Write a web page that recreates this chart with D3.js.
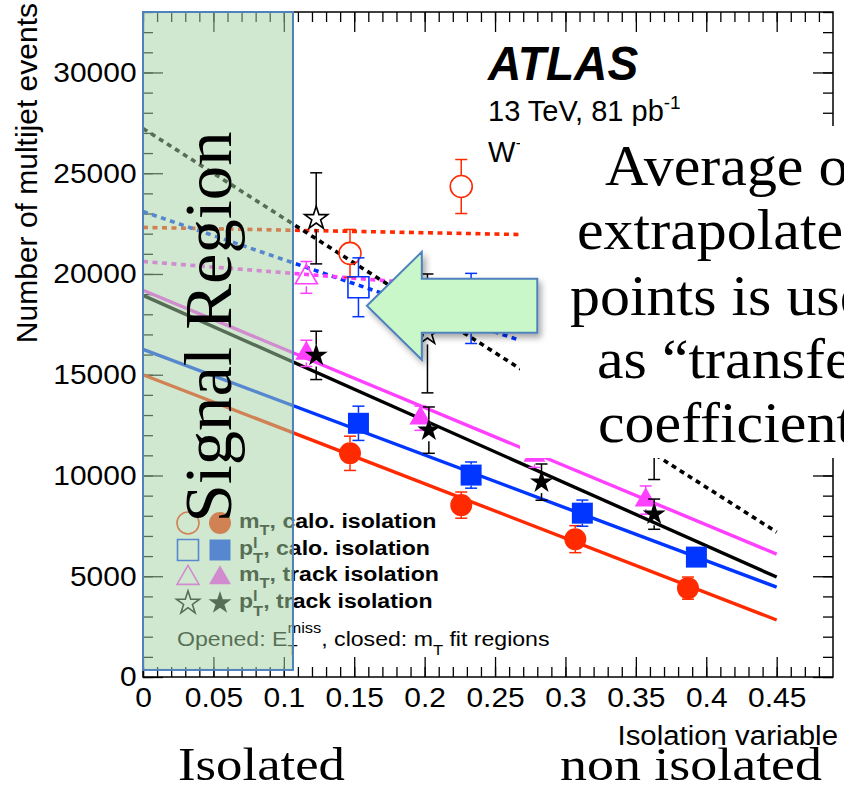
<!DOCTYPE html>
<html>
<head>
<meta charset="utf-8">
<script src="https://cdn.jsdelivr.net/npm/d3@7"></script>
<style>
  html, body { margin: 0; padding: 0; background: #fff; }
  svg { display: block; }
  text { white-space: pre; }
</style>
</head>
<body>
<script>
// isolation variable vs number of multijet events, ATLAS style

// closed markers: m_T fit regions
var mtCaloX = [0.147, 0.226, 0.307, 0.387];
var mtCaloY = [11100, 8530, 6840, 4410];
var mtCaloErr = [850, 650, 670, 550];
var ptCaloX = [0.153, 0.233, 0.312, 0.393];
var ptCaloY = [12590, 10020, 8130, 5950];
var ptCaloErr = [850, 650, 650, 400];
var mtTrackX = [0.116, 0.197, 0.278, 0.357];
var mtTrackY = [16060, 12840, 11000, 8780];
var mtTrackErr = [650, 600, 600, 700];
var ptTrackX = [0.123, 0.203, 0.283, 0.363];
var ptTrackY = [15960, 12250, 9670, 8080];
var ptTrackErr = [1200, 1150, 900, 750];

// open markers: E_T^miss fit regions
var mtCaloMetX = [0.147, 0.226];
var mtCaloMetY = [21020, 24340];
var mtCaloMetErr = [1190, 1340];
var ptCaloMetX = [0.153, 0.233];
var ptCaloMetY = [19340, 18290];
var ptCaloMetErr = [1460, 1740];
var mtTrackMetX = [0.116];
var mtTrackMetY = [19830];
var mtTrackMetErr = [790];
var ptTrackMetX = [0.123, 0.202, 0.363];
var ptTrackMetY = [22760, 17050, 12300];
var ptTrackMetErr = [2260, 2950, 2500];

// linear fits, value at x = 0 and x = 0.45
var fitX = [0, 0.45];
var mtCaloFit = [15000, 2830];
var ptCaloFit = [16260, 4460];
var mtTrackFit = [19190, 6100];
var ptTrackFit = [18940, 4960];
var mtCaloMetFit = [22310, 21720];
var ptCaloMetFit = [23100, 12350];
var mtTrackMetFit = [20620, 18130];
var ptTrackMetFit = [27220, 7190];

var xTickLabels = ["0", "0.05", "0.1", "0.15", "0.2", "0.25", "0.3", "0.35", "0.4", "0.45"];
var yTickLabels = ["0", "5000", "10000", "15000", "20000", "25000", "30000"];

var RED = "#ff2a00", BLUE = "#0036ff", MAG = "#ff40ff", BLK = "#000";
var SANS = "'Liberation Sans', Arial, sans-serif";
var SERIF = "'Liberation Serif', 'Times New Roman', serif";

var svg = d3.select("body").append("svg").attr("width", 844).attr("height", 787);
var defs = svg.append("defs");
var f = defs.append("filter").attr("id", "shadow").attr("x", "-20%").attr("y", "-20%").attr("width", "150%").attr("height", "150%");
f.append("feDropShadow").attr("dx", 3).attr("dy", 4).attr("stdDeviation", 3).attr("flood-color", "#000").attr("flood-opacity", 0.35);

var x = d3.scaleLinear().domain([0, 0.49]).range([143, 833]);
var y = d3.scaleLinear().domain([0, 33000]).range([677, 12]);

// axes
var xMajor = xTickLabels.map(Number);
var xMinor = d3.range(0, 49).map(function (i) { return i / 100; });
var yMajor = yTickLabels.map(Number);
var yMinor = d3.range(0, 34).map(function (i) { return i * 1000; });

function styleAxis(g) {
  g.select(".domain").remove();
  g.selectAll(".tick line").attr("stroke", "#000").attr("stroke-width", 1.3);
}

var ax = svg.append("g");
ax.append("g").attr("transform", "translate(0,677)")
  .call(d3.axisBottom(x).tickValues(xMinor).tickSize(-10).tickFormat("")).call(styleAxis);
ax.append("g").attr("transform", "translate(0,677)")
  .call(d3.axisBottom(x).tickValues(xMajor).tickSize(-20).tickPadding(10)
    .tickFormat(function (d, i) { return xTickLabels[i]; }))
  .call(styleAxis);
ax.append("g").attr("transform", "translate(0,12)")
  .call(d3.axisTop(x).tickValues(xMinor).tickSize(-10).tickFormat("")).call(styleAxis);
ax.append("g").attr("transform", "translate(0,12)")
  .call(d3.axisTop(x).tickValues(xMajor).tickSize(-20).tickFormat("")).call(styleAxis);
ax.append("g").attr("transform", "translate(143,0)")
  .call(d3.axisLeft(y).tickValues(yMinor).tickSize(-10).tickFormat("")).call(styleAxis);
ax.append("g").attr("transform", "translate(143,0)")
  .call(d3.axisLeft(y).tickValues(yMajor).tickSize(-20).tickPadding(6)
    .tickFormat(function (d, i) { return yTickLabels[i]; }))
  .call(styleAxis);
ax.append("g").attr("transform", "translate(833,0)")
  .call(d3.axisRight(y).tickValues(yMinor).tickSize(-10).tickFormat("")).call(styleAxis);
ax.append("g").attr("transform", "translate(833,0)")
  .call(d3.axisRight(y).tickValues(yMajor).tickSize(-20).tickFormat("")).call(styleAxis);
ax.selectAll(".tick text").attr("font-family", SANS).attr("font-size", 28).attr("fill", "#000")
  .attr("transform", "scale(1.07,1)");
svg.append("rect").attr("x", 143).attr("y", 12).attr("width", 690).attr("height", 665)
  .attr("fill", "none").attr("stroke", "#000").attr("stroke-width", 1.5);

svg.append("text").attr("transform", "translate(37,3) rotate(-90)").attr("text-anchor", "end")
  .attr("font-family", SANS).attr("font-size", 30).text("Number of multijet events");
svg.append("text").attr("transform", "translate(838,745) scale(1.05,1)").attr("text-anchor", "end")
  .attr("font-family", SANS).attr("font-size", 28).text("Isolation variable");

// fit lines
var plot = svg.append("g");
var line = d3.line().x(function (d) { return x(d[0]); }).y(function (d) { return y(d[1]); });
function fit(vals, color, dashed) {
  plot.append("path").datum(fitX.map(function (v, i) { return [v, vals[i]]; }))
    .attr("d", line).attr("fill", "none").attr("stroke", color).attr("stroke-width", dashed ? 3.6 : 3.4)
    .attr("stroke-dasharray", dashed ? "5,4.5" : null);
}
fit(mtCaloMetFit, RED, true);
fit(ptCaloMetFit, BLUE, true);
fit(mtTrackMetFit, MAG, true);
fit(ptTrackMetFit, BLK, true);
fit(mtCaloFit, RED, false);
fit(ptCaloFit, BLUE, false);
fit(mtTrackFit, MAG, false);
fit(ptTrackFit, BLK, false);

var shapes = {
  circle: { type: d3.symbolCircle, size: 380, r: 11 },
  square: { type: d3.symbolSquare, size: 441, r: 10.5 },
  triangle: { type: d3.symbolTriangle, size: 210, r: 9 },
  star: { type: d3.symbolStar, size: 165, r: 11 }
};

function points(xs, ys, errs, color, shape, open) {
  var s = shapes[shape];
  var data = xs.map(function (v, i) { return { x: v, y: ys[i], e: errs[i] }; });
  var g = plot.append("g");
  data.forEach(function (d) {
    var px = x(d.x), py = y(d.y), top = y(d.y + d.e), bot = y(d.y - d.e);
    var eg = g.append("g").attr("stroke", color).attr("stroke-width", 1.5);
    if (top < py - s.r) eg.append("line").attr("x1", px).attr("x2", px).attr("y1", top).attr("y2", py - s.r);
    if (bot > py + s.r) eg.append("line").attr("x1", px).attr("x2", px).attr("y1", py + s.r).attr("y2", bot);
    eg.append("line").attr("x1", px - 6).attr("x2", px + 6).attr("y1", top).attr("y2", top);
    eg.append("line").attr("x1", px - 6).attr("x2", px + 6).attr("y1", bot).attr("y2", bot);
  });
  g.selectAll("path.m").data(data).enter().append("path").attr("class", "m")
    .attr("transform", function (d) { return "translate(" + x(d.x) + "," + y(d.y) + ")"; })
    .attr("d", d3.symbol().type(s.type).size(s.size))
    .attr("fill", open ? "none" : color).attr("stroke", color).attr("stroke-width", open ? 1.6 : 0);
}
points(mtCaloMetX, mtCaloMetY, mtCaloMetErr, RED, "circle", true);
points(ptCaloMetX, ptCaloMetY, ptCaloMetErr, BLUE, "square", true);
points(mtTrackMetX, mtTrackMetY, mtTrackMetErr, MAG, "triangle", true);
points(ptTrackMetX, ptTrackMetY, ptTrackMetErr, BLK, "star", true);
points(mtCaloX, mtCaloY, mtCaloErr, RED, "circle", false);
points(ptCaloX, ptCaloY, ptCaloErr, BLUE, "square", false);
points(mtTrackX, mtTrackY, mtTrackErr, MAG, "triangle", false);
points(ptTrackX, ptTrackY, ptTrackErr, BLK, "star", false);

// text made of pieces (sub/superscripts)
function rich(parent, px, py, parts, base) {
  var g = parent.append("g").attr("transform", "translate(" + px + "," + py + ") scale(" + (base.sx || 1) + ",1)");
  var cx = 0, lastX = 0;
  parts.forEach(function (p) {
    var t = g.append("text").attr("x", p.stack ? lastX : cx).attr("y", p.dy || 0)
      .attr("font-family", base.family).attr("font-size", p.size || base.size)
      .attr("font-weight", base.weight || "normal").attr("font-style", base.style || "normal")
      .attr("fill", base.fill || "#000").text(p.t);
    var w = t.node().getComputedTextLength();
    if (p.stack) { cx = Math.max(cx, lastX + w); } else { lastX = cx; cx += w; }
  });
  return g;
}

rich(svg, 488, 80, [{ t: "ATLAS" }], { family: SANS, size: 48, weight: "bold", style: "italic", sx: 0.96 });
rich(svg, 488, 121, [{ t: "13 TeV, 81 pb" }, { t: "-1", size: 19, dy: -12 }], { family: SANS, size: 29 });
rich(svg, 488, 162, [{ t: "W" }, { t: "+", size: 19, dy: -12 }], { family: SANS, size: 29 });

// legend
var legRows = [
  { c: RED, s: "circle", parts: [{ t: "m" }, { t: "T", size: 15, dy: 7 }, { t: ", calo. isolation" }] },
  { c: BLUE, s: "square", parts: [{ t: "p" }, { t: "l", size: 15, dy: -7 }, { t: "T", size: 15, dy: 8, stack: true }, { t: ", calo. isolation" }] },
  { c: MAG, s: "triangle", parts: [{ t: "m" }, { t: "T", size: 15, dy: 7 }, { t: ", track isolation" }] },
  { c: BLK, s: "star", parts: [{ t: "p" }, { t: "l", size: 15, dy: -7 }, { t: "T", size: 15, dy: 8, stack: true }, { t: ", track isolation" }] }
];
var legY = [523, 550, 576, 603];
var leg = svg.append("g");
legRows.forEach(function (r, i) {
  var s = shapes[r.s];
  [188, 220].forEach(function (mx, j) {
    leg.append("path").attr("transform", "translate(" + mx + "," + (legY[i] + (r.s === "triangle" ? 2 : 0)) + ")")
      .attr("d", d3.symbol().type(s.type).size(s.size))
      .attr("fill", j ? r.c : "none").attr("stroke", r.c).attr("stroke-width", j ? 0 : 1.6);
  });
  rich(leg, 239, legY[i] + 5, r.parts, { family: SANS, size: 21, weight: "bold", sx: 1.1 });
});
rich(leg, 177, 646, [{ t: "Opened: E" }, { t: "miss", size: 15, dy: -13 }, { t: "T", size: 15, dy: 9, stack: true },
  { t: ", closed: m" }, { t: "T", size: 15, dy: 9 }, { t: " fit regions" }], { family: SANS, size: 21, sx: 1.1 });

// signal region overlay
var sr = svg.append("g");
sr.append("rect").attr("x", x(0)).attr("y", y(33000)).attr("width", x(0.1065) - x(0)).attr("height", y(350) - y(33000))
  .attr("fill", "#a5d3a3").attr("fill-opacity", 0.52).attr("stroke", "#4f81bd").attr("stroke-width", 2);
sr.append("text").attr("transform", "translate(231,327) rotate(-90)").attr("text-anchor", "middle")
  .attr("font-family", SERIF).attr("font-size", 68).attr("textLength", 391).attr("lengthAdjust", "spacingAndGlyphs")
  .text("Signal Region");

// text box on the right
svg.append("rect").attr("x", 520).attr("y", 126).attr("width", 330).attr("height", 332).attr("fill", "#fff");
var boxLines = ["Average of", "extrapolated", "points is used", "as \u201ctransfer", "coefficient\u201d"];
var boxLeft = [605, 577, 570, 597, 598];
var boxBase = [185, 249, 315, 378, 442];
svg.append("g").selectAll("text").data(boxLines).enter().append("text")
  .attr("transform", function (d, i) { return "translate(" + boxLeft[i] + "," + boxBase[i] + ") scale(1.07,1)"; })
  .attr("font-family", SERIF).attr("font-size", 56).text(function (d) { return d; });

// arrow pointing to the signal region
var arrowPts = [[0.159, 18420], [0.198, 21100], [0.198, 19760], [0.280, 19760], [0.280, 17080], [0.198, 17080], [0.198, 15740]];
svg.append("polygon")
  .attr("points", arrowPts.map(function (p) { return x(p[0]) + "," + y(p[1]); }).join(" "))
  .attr("fill", "#c9f7c9").attr("stroke", "#4f81bd").attr("stroke-width", 2).attr("filter", "url(#shadow)");

// bottom labels
svg.append("text").attr("x", 178).attr("y", 780).attr("font-family", SERIF).attr("font-size", 46)
  .attr("textLength", 167).attr("lengthAdjust", "spacingAndGlyphs").text("Isolated");
svg.append("text").attr("x", 560).attr("y", 780).attr("font-family", SERIF).attr("font-size", 46)
  .attr("textLength", 262).attr("lengthAdjust", "spacingAndGlyphs").text("non isolated");
</script>
</body>
</html>
